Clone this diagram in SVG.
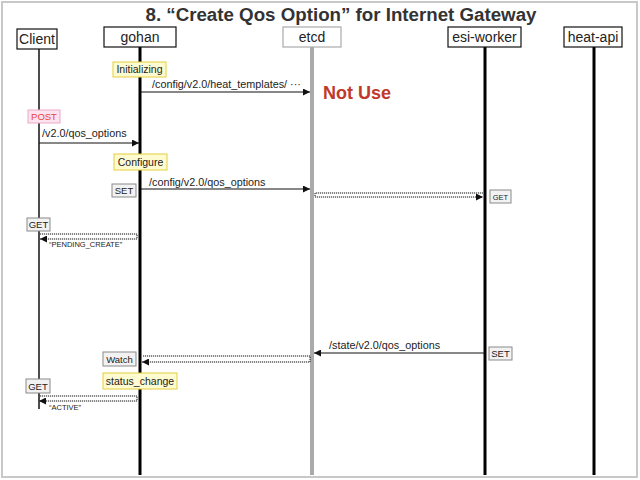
<svg xmlns="http://www.w3.org/2000/svg" width="640" height="480" viewBox="0 0 640 480">
<style>
text{font-family:"Liberation Sans",Arial,Helvetica,sans-serif;fill:#222}
.hdr{fill:#fff;stroke:#111;stroke-width:1.2}
.hdrg{fill:#fff;stroke:#aaa;stroke-width:1.2}
.ht{font-size:14px;text-anchor:middle}
.note{fill:#fffbd1;stroke:#e2cf3c;stroke-width:1}
.tag{fill:#f2f2f2;stroke:#8a8a8a;stroke-width:1}
.post{fill:#fde3ef;stroke:#e9a9c6;stroke-width:1}
.nt{font-size:10.5px;text-anchor:middle}
.tt{font-size:9.5px;text-anchor:middle}
.lbl{font-size:10.8px}
.sm{font-size:7.5px}
.msg{stroke:#111;stroke-width:1.2;fill:none}
.dot{stroke:#111;stroke-width:1;fill:none;stroke-dasharray:1.2 0.8}
</style>
<defs>
<marker id="ah" viewBox="0 0 10 10" refX="10" refY="5" markerWidth="7" markerHeight="7" markerUnits="userSpaceOnUse" orient="auto">
<path d="M0 0L10 5L0 10z" fill="#111"/>
</marker>
</defs>
<rect x="2" y="2" width="635" height="475" fill="#fff" stroke="#c8c8c8" stroke-width="2"/>
<text x="341" y="20.5" font-size="18" font-weight="bold" text-anchor="middle" textLength="391" lengthAdjust="spacingAndGlyphs" style="fill:#333">8. “Create Qos Option” for Internet Gateway</text>

<g id="lifelines">
<line x1="39" y1="49" x2="39" y2="409" stroke="#111" stroke-width="1.5"/>
<line x1="140" y1="47" x2="140" y2="475" stroke="#000" stroke-width="3"/>
<line x1="312" y1="47" x2="312" y2="475" stroke="#aaa" stroke-width="4"/>
<line x1="485" y1="47" x2="485" y2="475" stroke="#000" stroke-width="3"/>
<line x1="594" y1="47" x2="594" y2="475" stroke="#000" stroke-width="3"/>
</g>

<g id="client"><rect class="hdr" x="17" y="29" width="40" height="20"/><text class="ht" x="37" y="44">Client</text></g>
<g id="gohan"><rect class="hdr" x="104" y="27" width="72" height="20"/><text class="ht" x="140" y="42">gohan</text></g>
<g id="etcd"><rect class="hdrg" x="283" y="27" width="58" height="20"/><text class="ht" x="312" y="42">etcd</text></g>
<g id="esi-worker"><rect class="hdr" x="448" y="27" width="73" height="20"/><text class="ht" x="484.5" y="42">esi-worker</text></g>
<g id="heat-api"><rect class="hdr" x="564" y="27" width="58" height="20"/><text class="ht" x="593" y="42">heat-api</text></g>

<g id="connectors">
<line class="msg" x1="141" y1="92" x2="310" y2="92" marker-end="url(#ah)"/>
<line class="msg" x1="39" y1="143" x2="139" y2="143" marker-end="url(#ah)"/>
<line class="msg" x1="141" y1="189" x2="310" y2="189" marker-end="url(#ah)"/>
<path class="dot" d="M483 193H315V197H483" marker-end="url(#ah)"/>
<path class="dot" d="M40 234H137V239H40" marker-end="url(#ah)"/>
<line class="msg" x1="485" y1="353" x2="314" y2="353" marker-end="url(#ah)"/>
<path class="dot" d="M143 356H310V362H142" marker-end="url(#ah)"/>
<path class="dot" d="M40 396H137V401H39" marker-end="url(#ah)"/>
</g>

<g id="labels">
<text class="lbl" x="152" y="88">/config/v2.0/heat_templates/ ···</text>
<text class="lbl" x="42" y="137">/v2.0/qos_options</text>
<text class="lbl" x="149" y="186">/config/v2.0/qos_options</text>
<text class="sm" x="49" y="247">“PENDING_CREATE”</text>
<text class="lbl" x="329" y="349">/state/v2.0/qos_options</text>
<text class="sm" x="49" y="410">“ACTIVE”</text>
<text x="323" y="99" font-size="18" font-weight="bold" style="fill:#c0392b">Not Use</text>
</g>

<g id="initializing"><rect class="note" x="113" y="62" width="53" height="15"/><text class="nt" x="139.5" y="73">Initializing</text></g>
<g id="post"><rect class="post" x="28" y="110" width="32" height="13"/><text class="tt" x="44" y="120" style="fill:#e8413c">POST</text></g>
<g id="configure"><rect class="note" x="114" y="154" width="53" height="16"/><text class="nt" x="140.5" y="166">Configure</text></g>
<g id="set1"><rect class="tag" x="112" y="184" width="24" height="13"/><text class="tt" x="124" y="194">SET</text></g>
<g id="get-esi"><rect class="tag" x="490" y="190" width="21" height="13"/><text class="tt" x="500.5" y="199.5" style="font-size:7.5px">GET</text></g>
<g id="get1"><rect class="tag" x="27" y="218" width="23" height="13"/><text class="tt" x="38.5" y="228">GET</text></g>
<g id="set2"><rect class="tag" x="489" y="347" width="23" height="13"/><text class="tt" x="500.5" y="357">SET</text></g>
<g id="watch"><rect class="tag" x="103" y="352" width="33" height="14"/><text class="tt" x="119.5" y="362.5">Watch</text></g>
<g id="status-change"><rect class="note" x="103" y="373" width="74" height="16"/><text class="nt" x="140" y="385">status_change</text></g>
<g id="get2"><rect class="tag" x="26" y="379" width="24" height="14"/><text class="tt" x="38" y="389.5">GET</text></g>
</svg>
